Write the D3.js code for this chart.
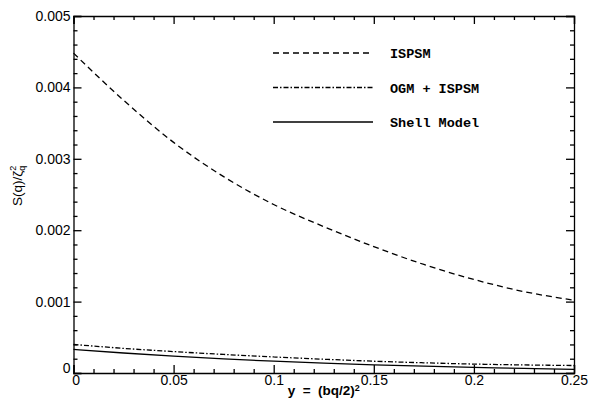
<!DOCTYPE html>
<html lang="en">
<head>
	<meta charset="UTF-8">
	<title>S(q) vs y</title>
	<script src="https://d3js.org/d3.v7.min.js"></script>
	<style>
		body { margin: 0; background: #fff; }
		.axis text { font-family: "Liberation Sans", Arial, sans-serif; font-size: 14px; fill: #000; }
		.axis path, .axis line { stroke: #000; stroke-width: 1.3; }
		.legend text { font-family: "Liberation Mono", monospace; font-size: 13.5px; font-weight: bold; fill: #000; }
	</style>
</head>
<body>

<script>
	//----data----
	var xValues = [0, 0.025, 0.05, 0.075, 0.1, 0.125, 0.15, 0.175, 0.2, 0.225, 0.25];
	var ispsm = [0.00448, 0.00382, 0.00323, 0.00275, 0.00236, 0.00205, 0.00177, 0.00152, 0.00131, 0.00114, 0.00102];
	var ogmIspsm = [0.00040, 0.000345, 0.00030, 0.00026, 0.000225, 0.000193, 0.000165, 0.000143, 0.000125, 0.000113, 0.000105];
	var shellModel = [0.00033, 0.00028, 0.000235, 0.000198, 0.000165, 0.000138, 0.000115, 0.000096, 0.00008, 0.000064, 0.00005];

	var xTicks = [0, 0.05, 0.1, 0.15, 0.2, 0.25];
	var xTickLabels = ['0', '0.05', '0.1', '0.15', '0.2', '0.25'];
	var yTicks = [0, 0.001, 0.002, 0.003, 0.004, 0.005];
	var yTickLabels = ['0', '0.001', '0.002', '0.003', '0.004', '0.005'];
	var legendNames = ['ISPSM', 'OGM + ISPSM', 'Shell Model'];

	window.onload = function () {

		var margin = {top: 16, bottom: 28, left: 73.5, right: 24};
		var width = 598 - margin.left - margin.right,
			height = 401 - margin.top - margin.bottom;

		var svg = d3.select('body').append('svg')
			.attr('width', 598)
			.attr('height', 401)
			.append('g')
			.attr('transform', 'translate(' + margin.left + ',' + margin.top + ')');

		var x = d3.scaleLinear().domain([0, 0.25]).range([0, width]);
		var y = d3.scaleLinear().domain([0, 0.005]).range([height, 0]);

		var xMinor = d3.range(0, 0.2501, 0.01).filter(function (d) {
			return Math.abs(Math.round(d / 0.05) * 0.05 - d) > 1e-6;
		});
		var yMinor = d3.range(0, 0.00501, 0.0002).filter(function (d) {
			return Math.abs(Math.round(d / 0.001) * 0.001 - d) > 1e-9;
		});

		//----Achsen----//
		svg.append('g')
			.attr('class', 'axis axis--x')
			.attr('transform', 'translate(0,' + height + ')')
			.call(d3.axisBottom(x).tickValues(xTicks).tickSize(-8).tickPadding(2)
				.tickFormat(function (d, i) { return xTickLabels[i]; }));
		svg.append('g')
			.attr('class', 'axis')
			.attr('transform', 'translate(0,' + height + ')')
			.call(d3.axisBottom(x).tickValues(xMinor).tickSize(-4).tickFormat(''))
			.select('.domain').remove();

		svg.append('g')
			.attr('class', 'axis axis--x2')
			.call(d3.axisTop(x).tickValues(xTicks).tickSize(-8).tickFormat(''));
		svg.append('g')
			.attr('class', 'axis')
			.call(d3.axisTop(x).tickValues(xMinor).tickSize(-4).tickFormat(''))
			.select('.domain').remove();

		svg.append('g')
			.attr('class', 'axis axis--y')
			.call(d3.axisLeft(y).tickValues(yTicks).tickSize(-8).tickPadding(3)
				.tickFormat(function (d, i) { return yTickLabels[i]; }));
		svg.append('g')
			.attr('class', 'axis')
			.call(d3.axisLeft(y).tickValues(yMinor).tickSize(-4).tickFormat(''))
			.select('.domain').remove();

		svg.append('g')
			.attr('class', 'axis axis--y2')
			.attr('transform', 'translate(' + width + ',0)')
			.call(d3.axisRight(y).tickValues(yTicks).tickSize(-8).tickFormat(''));
		svg.append('g')
			.attr('class', 'axis')
			.attr('transform', 'translate(' + width + ',0)')
			.call(d3.axisRight(y).tickValues(yMinor).tickSize(-4).tickFormat(''))
			.select('.domain').remove();

		// the two zeros sit in the corner
		svg.select('.axis--y').selectAll('.tick text')
			.filter(function (d) { return d === 0; })
			.attr('dy', '-0.05em');
		svg.select('.axis--x').selectAll('.tick text')
			.filter(function (d) { return d === 0; })
			.attr('dx', '0.15em');

		//----Achsentitel----//
		var xt = svg.append('text')
			.attr('x', width / 2)
			.attr('y', height + 22)
			.attr('text-anchor', 'middle')
			.style('font-family', '"Liberation Sans", Arial, sans-serif')
			.style('font-size', '13.5px')
			.style('font-weight', 'bold');
		xt.append('tspan').text('y\u00a0\u00a0=\u00a0\u00a0(bq/2)');
		xt.append('tspan').attr('dy', '-0.45em').style('font-size', '9px').text('2');

		var yt = svg.append('text')
			.attr('transform', 'translate(' + (-52) + ',' + y(0.00262) + ') rotate(-90)')
			.attr('text-anchor', 'middle')
			.style('font-family', '"Liberation Sans", Arial, sans-serif')
			.style('font-size', '13.5px');
		yt.append('tspan').text('S(q)/ζ');
		yt.append('tspan').attr('dy', '0.35em').style('font-size', '9px').text('q');
		yt.append('tspan').attr('dx', '-0.55em').attr('dy', '-0.95em').style('font-size', '9px').text('2');

		//----Kurven----//
		var line = d3.line()
			.x(function (d, i) { return x(xValues[i]); })
			.y(function (d) { return y(d); })
			.curve(d3.curveMonotoneX);

		var dashes = ['6,4', '5,2,1.5,2', null];
		var series = [ispsm, ogmIspsm, shellModel];

		series.forEach(function (s, i) {
			svg.append('path')
				.datum(s)
				.attr('d', line)
				.attr('fill', 'none')
				.attr('stroke', '#000')
				.attr('stroke-width', 1.3)
				.attr('stroke-dasharray', dashes[i]);
		});

		//----Legende----//
		var legend = svg.append('g')
			.attr('class', 'legend')
			.attr('transform', 'translate(' + (273 - margin.left) + ',' + (53 - margin.top) + ')');

		legendNames.forEach(function (name, i) {
			var g = legend.append('g').attr('transform', 'translate(0,' + (i * 34.5) + ')');
			g.append('line')
				.attr('x1', 0).attr('x2', 100)
				.attr('stroke', '#000')
				.attr('stroke-width', 1.3)
				.attr('stroke-dasharray', dashes[i]);
			g.append('text')
				.attr('x', 117)
				.attr('y', 5)
				.text(name);
		});

	};
</script>
</body>
</html>
